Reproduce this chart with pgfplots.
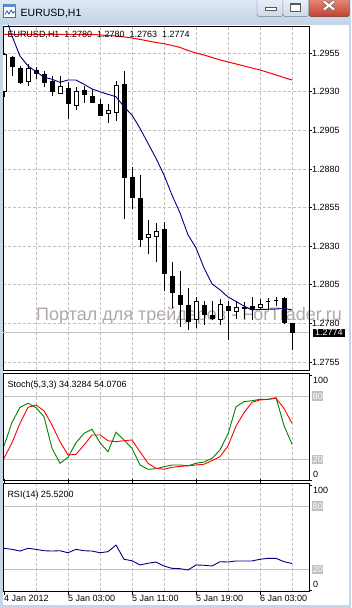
\documentclass[border=0pt]{standalone}
\usepackage{pgfplots}
\pgfplotsset{compat=1.18}
\usepackage{pgfplotstable}
\usepackage{fontspec}
\setmainfont{Liberation Sans}
\definecolor{gridgray}{RGB}{192,192,192}
\definecolor{mtnavy}{RGB}{0,0,128}
\definecolor{mtgreen}{RGB}{0,128,0}
\definecolor{mtred}{RGB}{255,0,0}
\definecolor{wmark}{RGB}{178,168,168}
\definecolor{winframe}{RGB}{200,213,228}
\definecolor{titletop}{RGB}{221,232,244}
\definecolor{titlebot}{RGB}{196,212,231}
\definecolor{btnedge}{RGB}{110,125,148}
\definecolor{btntop}{RGB}{238,243,250}
\definecolor{btnbot}{RGB}{205,218,234}
\definecolor{closetop}{RGB}{232,150,135}
\definecolor{closebot}{RGB}{196,64,48}
\definecolor{closeedge}{RGB}{120,50,40}
\definecolor{iconedge}{RGB}{70,110,170}
\definecolor{iconband}{RGB}{90,140,205}
\definecolor{iconline}{RGB}{40,80,160}

\pgfplotstableread{
i b r
0 1.29817 1.29672
1 1.29662 1.29672
2 1.29532 1.29672
3 1.29468 1.29672
4 1.29431 1.29672
5 1.29395 1.29672
6 1.29382 1.29672
7 1.29362 1.29672
8 1.29377 1.29672
9 1.29377 1.29672
10 1.29349 1.29672
11 1.29319 1.29672
12 1.29301 1.29669
13 1.29284 1.29665
14 1.29269 1.29662
15 1.29204 1.29656
16 1.29150 1.29649
17 1.29064 1.29640
18 1.28967 1.29630
19 1.28870 1.29620
20 1.28762 1.29612
21 1.28632 1.29601
22 1.28516 1.29588
23 1.28374 1.29568
24 1.28290 1.29552
25 1.28160 1.29539
26 1.28057 1.29523
27 1.28018 1.29507
28 1.27972 1.29494
29 1.27943 1.29481
30 1.27913 1.29468
31 1.27888 1.29455
32 1.27891 1.29442
33 1.27892 1.29426
34 1.27894 1.29410
35 1.27897 1.29393
36 1.27888 1.29377
}\ma

\pgfplotstableread{
i k d
0 32.6 20.9
1 55.0 35.7
2 69.3 54.1
3 73.1 69.3
4 68.9 71.4
5 60.4 66.0
6 30.4 52.5
7 16.2 36.7
8 21.9 24.1
9 35.7 24.7
10 44.6 33.5
11 48.4 43.0
12 35.7 43.0
13 27.2 37.6
14 45.6 36.7
15 38.3 37.6
16 30.4 38.3
17 14.6 27.2
18 10.5 16.2
19 11.1 11.5
20 12.9 10.5
21 14.6 12.4
22 14.6 13.3
23 13.7 13.9
24 16.2 14.6
25 17.4 15.3
26 20.9 18.7
27 28.8 22.5
28 44.0 32.6
29 69.8 51.5
30 74.6 64.1
31 75.5 74.0
32 76.8 76.2
33 76.8 76.8
34 78.4 77.8
35 52.0 68.3
36 34.33 54.07
}\stoch

\pgfplotstableread{
i v
0 39.9
1 38.9
2 37.3
3 39.9
4 38.9
5 37.6
6 37.3
7 37.6
8 35.7
9 38.9
10 37.6
11 37.3
12 35.7
13 36.7
14 43.0
15 29.5
16 28.1
17 24.1
18 25.7
19 26.9
20 23.1
21 20.9
22 20.6
23 19.3
24 24.1
25 23.8
26 23.1
27 27.2
28 26.9
29 27.9
30 27.9
31 27.9
32 29.5
33 30.4
34 30.4
35 27.2
36 25.52
}\rsi

\pgfplotsset{mtaxis/.style={
  scale only axis, width=306pt, xmin=-0.125, xmax=38.125,
  axis line style={black, line width=0.9pt},
  xtick={4,8,...,36}, xticklabels={},
  x tick style={draw=none},
  xmajorgrids,
  x grid style={gridgray, dash pattern=on 3pt off 2pt, line width=0.8pt},
  ytick pos=right,
  tick align=outside,
  major tick length=3pt,
  y tick style={black, line width=0.8pt},
  tick label style={font=\fontsize{9}{10}\selectfont},
  yticklabel style={anchor=west, inner sep=0pt},
}}

\begin{document}
\begin{tikzpicture}[x=1pt,y=1pt]
\useasboundingbox (0,0) rectangle (351,608);
% window frame
\fill[winframe] (0,0) rectangle (351,608);
\shade[top color=titletop, bottom color=titlebot] (0,584) rectangle (351,608);
\fill[white] (3,3) rectangle (349,583);
% icon
\draw[fill=white, draw=iconedge] (3.5,590.5) rectangle (15.5,604);
\fill[iconband] (3.5,601) rectangle (15.5,604);
\draw[iconline, line width=0.8pt] (5,593.5) -- (7,597) -- (9,594) -- (11,598) -- (13,595) -- (14.5,596.5);
\node[anchor=base west, inner sep=0, font=\fontsize{10.5}{12}\selectfont] at (20.5,591.3) {EURUSD,H1};
% buttons
\draw[btnedge, top color=btntop, bottom color=btnbot, rounded corners=2.5pt] (257,591.3) rectangle (283,612);
\draw[btnedge, top color=btntop, bottom color=btnbot, rounded corners=2.5pt] (283,591.3) rectangle (308.5,612);
\draw[closeedge, top color=closetop, bottom color=closebot, rounded corners=2.5pt] (309,591.3) rectangle (349.5,612);
\draw[black!65, fill=white, line width=0.8pt] (265.5,597.5) rectangle (276.5,600.5);
\draw[black!65, fill=white, line width=0.8pt] (290,596.5) rectangle (300.5,604.5);
\fill[black!65] (290,602.5) rectangle (300.5,604.5);
\draw[black!55, line width=3.4pt] (324,598.5) -- (334,606.5) (324,606.5) -- (334,598.5);
\draw[white, line width=2pt] (324,598.5) -- (334,606.5) (324,606.5) -- (334,598.5);

% watermark
\node[anchor=base west, inner sep=0, text=wmark, font=\fontsize{18}{20}\selectfont] at (36,287.3) {Портал для трейдеров - ForTrader.ru};

% ---------------- main chart (prices shown in points above 1.2700)
\begin{axis}[mtaxis, at={(3pt,237.5pt)}, anchor=south west, height=344.5pt,
  y filter/.expression={(y-1.27)*10000},
  ymin=49.56, ymax=272.68,
  ytick={55,80,105,130,155,180,205,230,255},
  yticklabels={1.2755,1.2780,1.2805,1.2830,1.2855,1.2880,1.2905,1.2930,1.2955},
  ymajorgrids,
  y grid style={gridgray, dash pattern=on 3pt off 2pt, line width=0.8pt},
  unbounded coords=jump,
]
\addplot[gridgray, line width=0.9pt] coordinates {(-0.125,1.2774) (38.125,1.2774)};
% wicks (low, high)
\addplot[black, line width=1pt, mark=none] coordinates {
(0,1.29270) (0,1.29550) (0,nan) (1,1.29400) (1,1.29535) (1,nan)
(2,1.29350) (2,1.29470) (2,nan) (3,1.29338) (3,1.29480) (3,nan)
(4,1.29382) (4,1.29460) (4,nan) (5,1.29330) (5,1.29437) (5,nan)
(6,1.29275) (6,1.29400) (6,nan) (7,1.29291) (7,1.29403) (7,nan)
(8,1.29124) (8,1.29362) (8,nan) (9,1.29183) (9,1.29334) (9,nan)
(10,1.29230) (10,1.29340) (10,nan) (11,1.29226) (11,1.29317) (11,nan)
(12,1.29146) (12,1.29252) (12,nan) (13,1.29097) (13,1.29222) (13,nan)
(14,1.29110) (14,1.29371) (14,nan) (15,1.28475) (15,1.29435) (15,nan)
(16,1.28540) (16,1.28816) (16,nan) (17,1.28294) (17,1.28762) (17,nan)
(18,1.28248) (18,1.28470) (18,nan) (19,1.28196) (19,1.28453) (19,nan)
(20,1.28012) (20,1.28457) (20,nan) (21,1.27898) (21,1.28196) (21,nan)
(22,1.27779) (22,1.28142) (22,nan) (23,1.27758) (23,1.28028) (23,nan)
(24,1.27769) (24,1.27974) (24,nan) (25,1.27790) (25,1.27948) (25,nan)
(26,1.27823) (26,1.27946) (26,nan) (27,1.27790) (27,1.27957) (27,nan)
(28,1.27693) (28,1.27948) (28,nan) (29,1.27827) (29,1.27948) (29,nan)
(30,1.27827) (30,1.27941) (30,nan) (31,1.27823) (31,1.27974) (31,nan)
(32,1.27887) (32,1.27957) (32,nan) (33,1.27887) (33,1.27963) (33,nan)
(34,1.27913) (34,1.27974) (34,nan) (35,1.27795) (35,1.27974) (35,nan)
(36,1.27630) (36,1.27800)
};
% bearish bodies (open, close)
\addplot[black, line width=5pt, mark=none] coordinates {
(1,1.29528) (1,1.29460) (1,nan) (2,1.29455) (2,1.29360) (2,nan)
(4,1.29442) (4,1.29416) (4,nan) (5,1.29416) (5,1.29360) (5,nan)
(6,1.29371) (6,1.29300) (6,nan) (8,1.29323) (8,1.29220) (8,nan)
(10,1.29312) (10,1.29278) (10,nan) (11,1.29273) (11,1.29230) (11,nan)
(12,1.29222) (12,1.29146) (12,nan) (15,1.29351) (15,1.28740) (15,nan)
(16,1.28749) (16,1.28615) (16,nan) (17,1.28613) (17,1.28341) (17,nan)
(20,1.28412) (20,1.28119) (20,nan) (21,1.28108) (21,1.27996) (21,nan)
(22,1.27985) (22,1.27920) (22,nan) (23,1.27920) (23,1.27812) (23,nan)
(25,1.27920) (25,1.27855) (25,nan) (26,1.27855) (26,1.27827) (26,nan)
(28,1.27915) (28,1.27883) (28,nan) (30,1.27905) (30,1.27892) (30,nan)
(31,1.27915) (31,1.27887) (31,nan) (35,1.27963) (35,1.27805) (35,nan)
(36,1.27800) (36,1.27740)
};
% bullish bodies (open, close)
\addplot[black, fill=white, line width=1pt, mark=none, line join=miter] coordinates {
(-0.25,1.29300) (0.25,1.29300) (0.25,1.29540) (-0.25,1.29540) (-0.25,1.29300) (0,nan)
(2.75,1.29366) (3.25,1.29366) (3.25,1.29453) (2.75,1.29453) (2.75,1.29366) (3,nan)
(6.75,1.29291) (7.25,1.29291) (7.25,1.29332) (6.75,1.29332) (6.75,1.29291) (7,nan)
(8.75,1.29213) (9.25,1.29213) (9.25,1.29300) (8.75,1.29300) (8.75,1.29213) (9,nan)
(12.75,1.29161) (13.25,1.29161) (13.25,1.29181) (12.75,1.29181) (12.75,1.29161) (13,nan)
(13.75,1.29168) (14.25,1.29168) (14.25,1.29343) (13.75,1.29343) (13.75,1.29168) (14,nan)
(17.75,1.28358) (18.25,1.28358) (18.25,1.28378) (17.75,1.28378) (17.75,1.28358) (18,nan)
(18.75,1.28363) (19.25,1.28363) (19.25,1.28399) (18.75,1.28399) (18.75,1.28363) (19,nan)
(23.75,1.27823) (24.25,1.27823) (24.25,1.27941) (23.75,1.27941) (23.75,1.27823) (24,nan)
(26.75,1.27827) (27.25,1.27827) (27.25,1.27926) (26.75,1.27926) (26.75,1.27827) (27,nan)
(28.75,1.27876) (29.25,1.27876) (29.25,1.27905) (28.75,1.27905) (28.75,1.27876) (29,nan)
(31.75,1.27905) (32.25,1.27905) (32.25,1.27926) (31.75,1.27926) (31.75,1.27905) (32,nan)
(32.75,1.27941) (33.25,1.27941) (33.25,1.27941) (32.75,1.27941) (32.75,1.27941) (33,nan)
(33.75,1.27946) (34.25,1.27946) (34.25,1.27946) (33.75,1.27946) (33.75,1.27946)
};
% moving averages
\addplot[mtred, line width=1pt, mark=none] table[x=i, y=r] {\ma};
\addplot[mtnavy, line width=0.9pt, mark=none] table[x=i, y=b] {\ma};
\end{axis}
\node[anchor=base west, inner sep=0, font=\fontsize{9}{10}\selectfont] at (7.3,570.3) {EURUSD,H1 \ 1.2780 \ 1.2780 \ 1.2763 \ 1.2774};
\node[anchor=west, fill=black, text=white, inner xsep=2.4pt, inner ysep=1.1pt, font=\fontsize{9}{10}\selectfont] at (312.6,275.2) {1.2774};

% ---------------- stochastic
\begin{axis}[mtaxis, at={(3pt,127.5pt)}, anchor=south west, height=107pt,
  ymin=-0.1, ymax=101.3,
  ytick={20,80}, yticklabels={20,80},
  ymajorgrids,
  y grid style={gridgray, solid, line width=0.9pt},
  y tick style={draw=none},
  yticklabel style={fill=gridgray, text=white, inner xsep=0.6pt, inner ysep=1.5pt},
]
\addplot[mtgreen, line width=0.9pt, mark=none] table[x=i, y=k] {\stoch};
\addplot[mtred, line width=0.9pt, mark=none] table[x=i, y=d] {\stoch};
\end{axis}
\node[anchor=base west, inner sep=0, font=\fontsize{9}{10}\selectfont] at (7.3,220.8) {Stoch(5,3,3) 34.3284 54.0706};
\node[anchor=west, inner sep=0, font=\fontsize{9}{10}\selectfont] at (313,227.3) {100};
\node[anchor=west, inner sep=0, font=\fontsize{9}{10}\selectfont] at (313,134) {0};
\draw[black, line width=0.8pt] (309,233) -- (312,233) (309,128) -- (312,128);

% ---------------- RSI
\begin{axis}[mtaxis, at={(3pt,17pt)}, anchor=south west, height=108pt,
  ymin=-0.57, ymax=101.8,
  ytick={20,80}, yticklabels={20,80},
  ymajorgrids,
  y grid style={gridgray, solid, line width=0.9pt},
  y tick style={draw=none},
  yticklabel style={fill=gridgray, text=white, inner xsep=0.6pt, inner ysep=1.5pt},
  extra x ticks={0,8,16,24,32},
  extra x tick labels={4 Jan 2012,5 Jan 03:00,5 Jan 11:00,5 Jan 19:00,6 Jan 03:00},
  extra x tick style={grid=none, x tick style={draw=black, line width=0.8pt}, major tick length=4pt,
    xticklabel style={anchor=north west, inner sep=0pt}},
]
\addplot[mtnavy, line width=0.9pt, mark=none] table[x=i, y=v] {\rsi};
\end{axis}
\node[anchor=base west, inner sep=0, font=\fontsize{9}{10}\selectfont] at (7.3,110.8) {RSI(14) 25.5200};
\node[anchor=west, inner sep=0, font=\fontsize{9}{10}\selectfont] at (313,117.3) {100};
\node[anchor=west, inner sep=0, font=\fontsize{9}{10}\selectfont] at (313,23.7) {0};
\draw[black, line width=0.8pt] (309,123) -- (312,123) (309,18) -- (312,18);
\end{tikzpicture}
\end{document}
